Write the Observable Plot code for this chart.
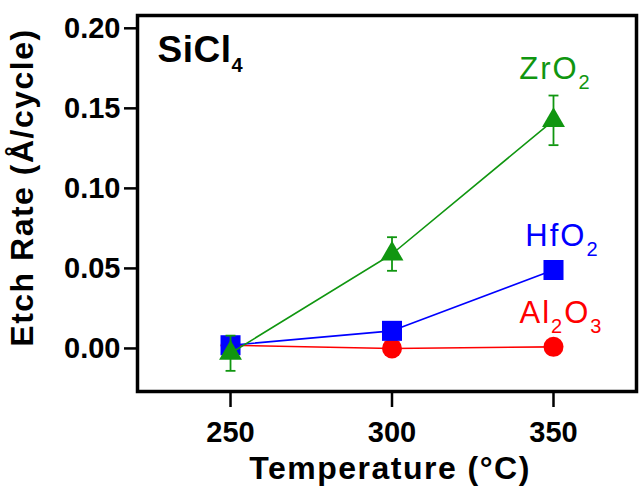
<!DOCTYPE html>
<html>
<head>
<meta charset="utf-8">
<script src="https://cdn.jsdelivr.net/npm/d3@7"></script>
<script src="https://cdn.jsdelivr.net/npm/@observablehq/plot@0.6"></script>
<style>
  html, body { margin: 0; padding: 0; background: #fff; }
  #chart { width: 644px; height: 490px; }
</style>
</head>
<body>
<div id="chart"></div>
<script>
// Etch rate per cycle vs. temperature for three oxides etched with SiCl4
const temps = [250, 300, 350];
const al2o3Rate = [0.002, 0.000, 0.001];
const hfo2Rate = [0.002, 0.011, 0.049];
const zro2Rate = [-0.003, 0.059, 0.1425];
const zro2Err = [0.011, 0.0105, 0.0155];
const seriesNames = ["Al_2O_3", "HfO_2", "ZrO_2"];
const precursor = "SiCl_4";
const xTickValues = [250, 300, 350];
const yTickValues = [0, 0.05, 0.10, 0.15, 0.20];
const xTitle = "Temperature (°C)";
const yTitle = "Etch Rate (Å/cycle)";

const RED = "#ff0000", BLUE = "#0000ff", GREEN = "#109610";

const rows = (vals, err) => temps.map((t, i) => ({t, v: vals[i], e: err ? err[i] : 0}));
const al2o3 = rows(al2o3Rate);
const hfo2 = rows(hfo2Rate);
const zro2 = rows(zro2Rate, zro2Err);

// horizontal cap for the error bars
const capSymbol = {
  draw(ctx, size) {
    const w = Math.sqrt(size) / 2;
    ctx.moveTo(-w, 0);
    ctx.lineTo(w, 0);
  }
};

const last = (data) => [data[data.length - 1]];
const LABEL_SIZE = 31;

const chart = Plot.plot({
  width: 644,
  height: 490,
  marginLeft: 137,
  marginRight: 8,
  marginTop: 15,
  marginBottom: 99,
  style: {fontFamily: "'Liberation Sans', Arial, sans-serif", background: "#fff", color: "#000"},
  x: {domain: [221.2, 375.7]},
  y: {domain: [-0.0269, 0.208]},
  marks: [
    Plot.axisX({ticks: xTickValues, tickSize: 16, tickPadding: 14, strokeWidth: 2.5,
      tickFormat: d => String(d), fontSize: 29, fontWeight: "bold", label: null}),
    Plot.axisY({ticks: yTickValues, tickSize: 13, tickPadding: 4, strokeWidth: 2.5,
      tickFormat: d3.format(".2f"), fontSize: 29, fontWeight: "bold", label: null}),
    // Al2O3
    Plot.line(al2o3, {x: "t", y: "v", stroke: RED, strokeWidth: 1.6}),
    Plot.dot(al2o3, {x: "t", y: "v", symbol: "circle", r: 10, fill: RED}),
    // HfO2
    Plot.line(hfo2, {x: "t", y: "v", stroke: BLUE, strokeWidth: 1.6}),
    Plot.dot(hfo2, {x: "t", y: "v", symbol: "square", r: 11.3, fill: BLUE}),
    // ZrO2 with error bars
    Plot.line(zro2, {x: "t", y: "v", stroke: GREEN, strokeWidth: 1.6}),
    Plot.ruleX(zro2, {x: "t", y1: d => d.v - d.e, y2: d => d.v + d.e, stroke: GREEN, strokeWidth: 1.8}),
    Plot.dot(zro2, {x: "t", y: d => d.v - d.e, symbol: capSymbol, r: 5.6, stroke: GREEN, strokeWidth: 1.8}),
    Plot.dot(zro2, {x: "t", y: d => d.v + d.e, symbol: capSymbol, r: 5.6, stroke: GREEN, strokeWidth: 1.8}),
    Plot.dot(zro2, {x: "t", y: "v", symbol: "triangle", r: 8.5, fill: GREEN}),
    // series labels next to the 350 °C points
    Plot.text(last(al2o3), {x: "t", y: "v", text: () => seriesNames[0], fill: RED, fontSize: LABEL_SIZE, dx: 8, dy: -34}),
    Plot.text(last(hfo2), {x: "t", y: "v", text: () => seriesNames[1], fill: BLUE, fontSize: LABEL_SIZE, dx: 9, dy: -34}),
    Plot.text(last(zro2), {x: "t", y: "v", text: () => seriesNames[2], fill: GREEN, fontSize: LABEL_SIZE, dx: 2, dy: -51}),
    // precursor tag
    Plot.text([precursor], {text: d => d, frameAnchor: "top-left", textAnchor: "start", lineAnchor: "middle",
      dx: 20, dy: 34.5, fontSize: 37, fontWeight: "bold", fill: "#000"}),
    // axis titles
    Plot.text([xTitle], {text: d => d, frameAnchor: "bottom", textAnchor: "middle", lineAnchor: "middle",
      dx: 3, dy: 77, fontSize: 32, fontWeight: "bold", fill: "#000"}),
    Plot.text([yTitle], {text: d => d, frameAnchor: "left", textAnchor: "middle", rotate: -90, lineAnchor: "middle",
      dx: -115, dy: -16, fontSize: 32, fontWeight: "bold", fill: "#000"}),
    Plot.frame({stroke: "#000", strokeWidth: 3.5})
  ]
});

// extra tracking for the wider title and label lettering
const tracking = new Map([
  [xTitle, 1.5], [yTitle, 1.5], [precursor, 0.5],
  [seriesNames[0], 2], [seriesNames[1], 2], [seriesNames[2], 2]
]);

// turn "_n" markers into lowered, smaller subscript digits
const SVGNS = "http://www.w3.org/2000/svg";
for (const t of chart.querySelectorAll("text")) {
  const content = t.textContent;
  if (tracking.has(content)) t.setAttribute("letter-spacing", tracking.get(content));
  const parts = content.split(/_(\d)/);
  if (parts.length < 2) continue;
  const size = parseFloat(t.getAttribute("font-size") || getComputedStyle(t).fontSize) || 29;
  const sub = Math.round(size * 0.7);
  const shift = Math.round(size * 0.33);
  t.textContent = "";
  let lowered = false;
  parts.forEach((p, i) => {
    if (!p) return;
    const ts = document.createElementNS(SVGNS, "tspan");
    ts.textContent = p;
    if (i % 2) {
      ts.setAttribute("font-size", sub);
      if (!lowered) { ts.setAttribute("dy", shift); lowered = true; }
    } else if (lowered) {
      ts.setAttribute("dy", -shift);
      lowered = false;
    }
    t.appendChild(ts);
  });
}

document.getElementById("chart").appendChild(chart);
</script>
</body>
</html>
